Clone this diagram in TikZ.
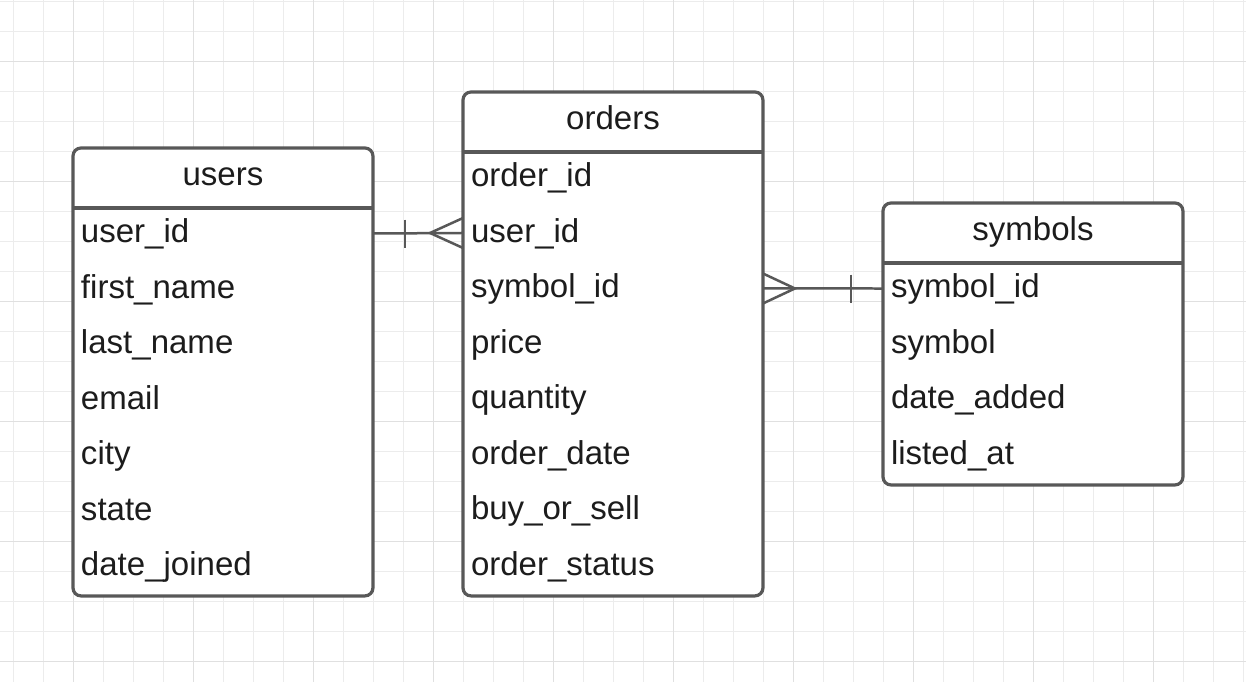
\documentclass[tikz,border=0pt]{standalone}
\usepackage{fontspec}
\setmainfont{Liberation Sans}
\usetikzlibrary{calc,positioning}

\definecolor{boxline}{RGB}{88,88,88}
\definecolor{gridminor}{RGB}{236,236,236}
\definecolor{gridmajor}{RGB}{224,224,224}
\definecolor{ink}{RGB}{28,28,28}

\tikzset{
	tablebox/.style={draw=boxline, line width=0.064cm, rounded corners=0.16cm, fill=white, minimum width=6cm, anchor=north west, outer sep=0pt},
	title/.style={anchor=base, text=ink, font=\fontsize{18.8}{22}\selectfont},
	field/.style={anchor=west, text=ink, font=\fontsize{18.8}{22}\selectfont, text width=5.68cm, align=left,
		inner xsep=0.16cm, inner ysep=0pt, outer sep=0pt, text height=13.5pt, text depth=3pt, minimum height=1.11cm},
	link/.style={draw=boxline, line width=0.05cm},
}

\begin{document}
\begin{tikzpicture}[x=0.02cm, y=-0.02cm]
		\useasboundingbox (0,0) rectangle (1246,682);
		\fill[white] (0,0) rectangle (1246,682);

		% Grid
		\foreach \gx in {13,43,...,1243} \draw[gridminor, line width=0.02cm] (\gx,0) -- (\gx,682);
		\foreach \gy in {1.7,31.7,...,661.7} \draw[gridminor, line width=0.02cm] (0,\gy) -- (1246,\gy);
		\foreach \gx in {73,193,...,1153} \draw[gridmajor, line width=0.02cm] (\gx,0) -- (\gx,682);
		\foreach \gy in {61.7,181.7,...,661.7} \draw[gridmajor, line width=0.02cm] (0,\gy) -- (1246,\gy);

		% Tables
		\node[tablebox, minimum height=8.96cm] (users) at (73,148) {};
		\node[tablebox, minimum height=10.08cm] (orders) at (463,92) {};
		\node[tablebox, minimum height=5.64cm] (symbols) at (883,203) {};

		% Header lines
		\draw[tablebox] ($(users.north west)+(0,60)$) -- ($(users.north east)+(0,60)$);
		\draw[tablebox] ($(orders.north west)+(0,60)$) -- ($(orders.north east)+(0,60)$);
		\draw[tablebox] ($(symbols.north west)+(0,60)$) -- ($(symbols.north east)+(0,60)$);

		% Titles
		\node[title] (users-title) at ($(users.north)+(0,37.5)$) {users};
		\node[title] (orders-title) at ($(orders.north)+(0,37.5)$) {orders};
		\node[title] (symbols-title) at ($(symbols.north)+(0,37.5)$) {symbols};

		% Fields of users
		\node[field] (users-user_id) at ($(users.north west)+(0,85.5)$) {user\_id};
		\node[field, below=0pt of users-user_id] (users-first_name) {first\_name};
		\node[field, below=0pt of users-first_name] (users-last_name) {last\_name};
		\node[field, below=0pt of users-last_name] (users-email) {email};
		\node[field, below=0pt of users-email] (users-city) {city};
		\node[field, below=0pt of users-city] (users-state) {state};
		\node[field, below=0pt of users-state] (users-date_joined) {date\_joined};

		% Fields of orders
		\node[field] (orders-order_id) at ($(orders.north west)+(0,85.5)$) {order\_id};
		\node[field, below=0pt of orders-order_id] (orders-user_id) {user\_id};
		\node[field, below=0pt of orders-user_id] (orders-symbol_id) {symbol\_id};
		\node[field, below=0pt of orders-symbol_id] (orders-price) {price};
		\node[field, below=0pt of orders-price] (orders-quantity) {quantity};
		\node[field, below=0pt of orders-quantity] (orders-order_date) {order\_date};
		\node[field, below=0pt of orders-order_date] (orders-buy_or_sell) {buy\_or\_sell};
		\node[field, below=0pt of orders-buy_or_sell] (orders-order_status) {order\_status};

		% Fields of symbols
		\node[field] (symbols-symbol_id) at ($(symbols.north west)+(0,85.5)$) {symbol\_id};
		\node[field, below=0pt of symbols-symbol_id] (symbols-symbol) {symbol};
		\node[field, below=0pt of symbols-symbol] (symbols-date_added) {date\_added};
		\node[field, below=0pt of symbols-date_added] (symbols-listed_at) {listed\_at};

		% users -- orders (one to many)
		\draw[link] (users-user_id.east) -- (orders-user_id.west);
		\draw[link] ($(users-user_id.east)+(32,-14)$) -- ($(users-user_id.east)+(32,14)$);
		\draw[link] ($(orders-user_id.west)+(0,-15)$) -- ($(orders-user_id.west)+(-33,0)$) -- ($(orders-user_id.west)+(0,15)$);

		% orders -- symbols (many to one)
		\draw[link] (orders-symbol_id.east) -- (symbols-symbol_id.west);
		\draw[link] ($(orders-symbol_id.east)+(0,-15)$) -- ($(orders-symbol_id.east)+(32,0)$) -- ($(orders-symbol_id.east)+(0,15)$);
		\draw[link] ($(symbols-symbol_id.west)+(-32,-14)$) -- ($(symbols-symbol_id.west)+(-32,14)$);
	\end{tikzpicture}
\end{document}
